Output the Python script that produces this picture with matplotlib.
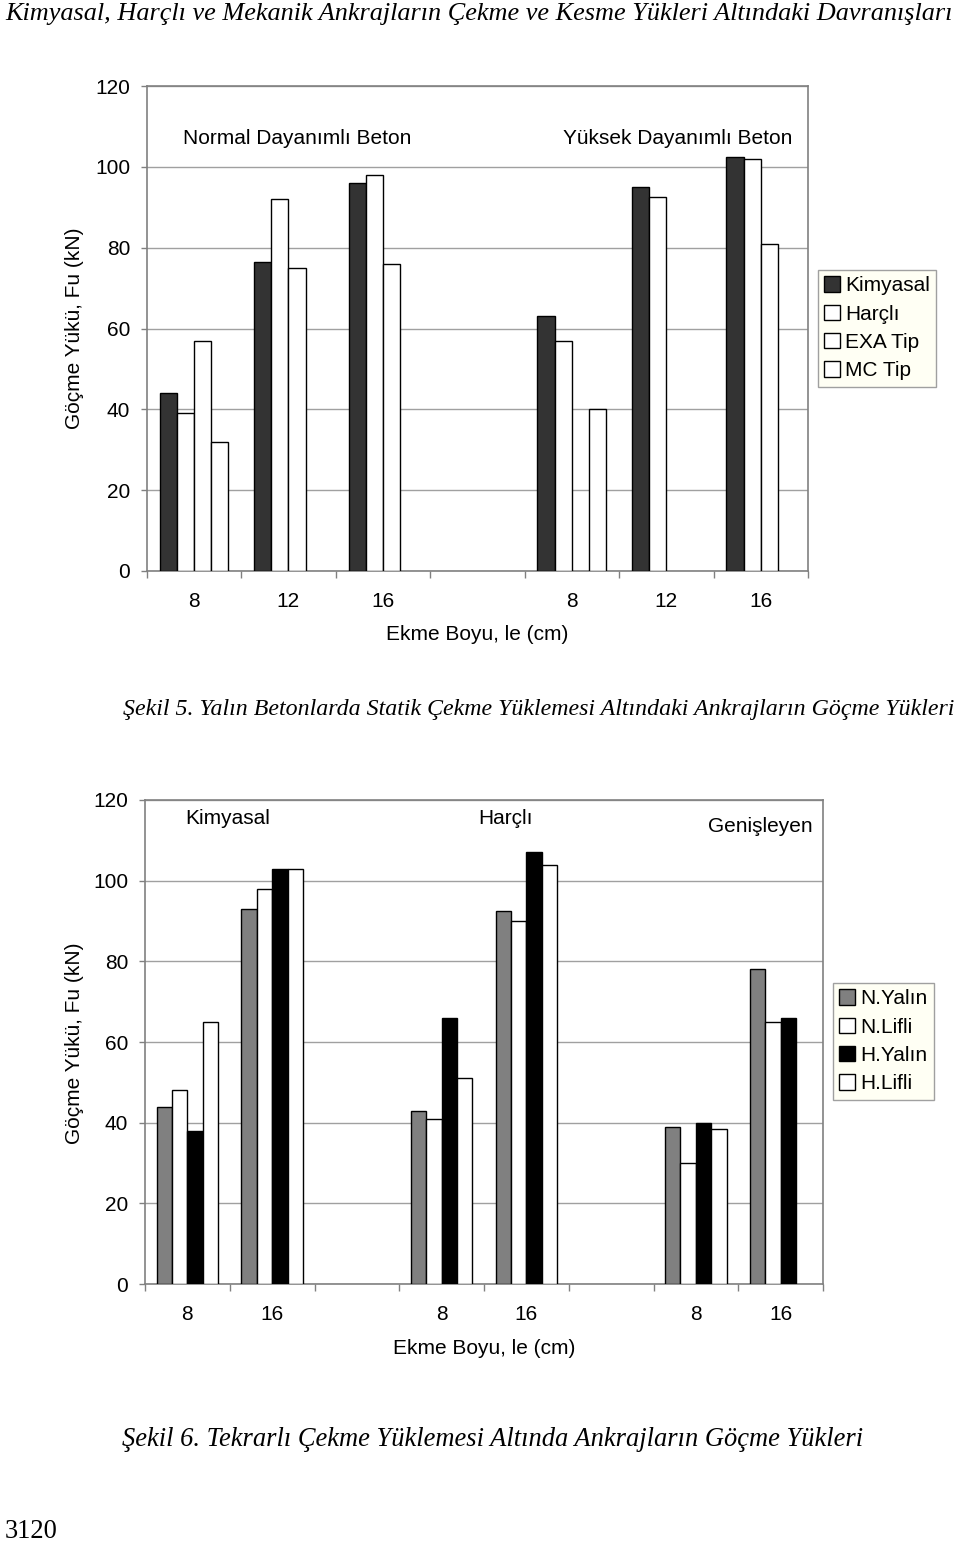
import numpy as np
import matplotlib
matplotlib.use("Agg")
import matplotlib.pyplot as plt

# ---------------- data ----------------
top_categories = ['8', '12', '16', '', '8', '12', '16']
top_series = ['Kimyasal', 'Harçlı', 'EXA Tip', 'MC Tip']
top_kimyasal = [44, 76.5, 96, np.nan, 63, 95, 102.5]
top_harcli = [39, 92, 98, np.nan, 57, 92.5, 102]
top_exa = [57, 75, 76, np.nan, np.nan, np.nan, 81]
top_mc = [32, np.nan, np.nan, np.nan, 40, np.nan, np.nan]
top_colors = ['#333333', 'white', 'white', 'white']
top_groups = ['Normal Dayanımlı Beton', 'Yüksek Dayanımlı Beton']

bot_categories = ['8', '16', '', '8', '16', '', '8', '16']
bot_series = ['N.Yalın', 'N.Lifli', 'H.Yalın', 'H.Lifli']
bot_n_yalin = [44, 93, np.nan, 43, 92.5, np.nan, 39, 78]
bot_n_lifli = [48, 98, np.nan, 41, 90, np.nan, 30, 65]
bot_h_yalin = [38, 103, np.nan, 66, 107, np.nan, 40, 66]
bot_h_lifli = [65, 103, np.nan, 51, 104, np.nan, 38.5, np.nan]
bot_colors = ['#808080', 'white', 'black', 'white']
bot_groups = ['Kimyasal', 'Harçlı', 'Genişleyen']

y_ticks = [0, 20, 40, 60, 80, 100, 120]
y_label = 'Göçme Yükü, Fu (kN)'
x_label = 'Ekme Boyu, le (cm)'

title_text = 'Kimyasal, Harçlı ve Mekanik Ankrajların Çekme ve Kesme Yükleri Altındaki Davranışları'
cap5 = 'Şekil 5. Yalın Betonlarda Statik Çekme Yüklemesi Altındaki Ankrajların Göçme Yükleri'
cap6 = 'Şekil 6. Tekrarlı Çekme Yüklemesi Altında Ankrajların Göçme Yükleri'
page_no = '3120'

# ---------------- style ----------------
SANS = ['Liberation Sans', 'DejaVu Sans']
SERIF = ['Liberation Serif', 'DejaVu Serif']
W, H = 960, 1544
fig = plt.figure(figsize=(W / 100, H / 100), dpi=100)
fig.patch.set_facecolor('white')
FS = 15
GRID = '#a0a0a0'
SPINE = '#808080'


def fx(px):
    return px / W


def fy(py):
    return 1 - py / H


def make_axes(left, right, top, bottom, cats, series_vals, colors, names):
    ax = fig.add_axes([fx(left), fy(bottom), fx(right - left), (bottom - top) / H])
    n = len(cats)
    x = np.arange(n) + 0.5
    w = 1 / 5.5
    for k, (vals, c, nm) in enumerate(zip(series_vals, colors, names)):
        ax.bar(x + (k - 1.5) * w, vals, width=w, color=c, edgecolor='black',
               linewidth=1.0, label=nm, zorder=3)
    ax.set_xlim(0, n)
    ax.set_ylim(0, 120)
    ax.set_yticks(y_ticks)
    ax.set_yticklabels([str(t) for t in y_ticks], fontfamily=SANS, fontsize=FS)
    ax.yaxis.grid(True, color=GRID, linewidth=1.0, zorder=0)
    ax.set_axisbelow(True)
    ax.set_xticks(np.arange(n + 1))
    ax.set_xticklabels([''] * (n + 1))
    ax.set_xticks(x, minor=True)
    ax.set_xticklabels(cats, minor=True, fontfamily=SANS, fontsize=FS)
    ax.tick_params(axis='x', which='major', direction='out', length=5, color=SPINE, width=1)
    ax.tick_params(axis='x', which='minor', length=0, pad=15)
    ax.tick_params(axis='y', which='major', direction='out', length=4, color=SPINE, width=1, pad=8)
    for s in ax.spines.values():
        s.set_color(SPINE)
        s.set_linewidth(1.2)
    return ax


ax1 = make_axes(146.7, 808, 86, 571, top_categories,
                [top_kimyasal, top_harcli, top_exa, top_mc], top_colors, top_series)
ax2 = make_axes(145, 823, 800, 1284, bot_categories,
                [bot_n_yalin, bot_n_lifli, bot_h_yalin, bot_h_lifli], bot_colors, bot_series)

# group labels
for txt, cx, cy in zip(top_groups, [297, 678], [138, 138]):
    fig.text(fx(cx), fy(cy), txt, ha='center', va='center', fontfamily=SANS, fontsize=FS)
for txt, cx, cy in zip(bot_groups, [228, 506, 760], [818, 818, 826]):
    fig.text(fx(cx), fy(cy), txt, ha='center', va='center', fontfamily=SANS, fontsize=FS)

# axis labels
fig.text(fx(75), fy(328), y_label, rotation=90, ha='center', va='center', fontfamily=SANS, fontsize=FS)
fig.text(fx(75), fy(1043), y_label, rotation=90, ha='center', va='center', fontfamily=SANS, fontsize=FS)
fig.text(fx(477), fy(635), x_label, ha='center', va='center', fontfamily=SANS, fontsize=FS)
fig.text(fx(484), fy(1349), x_label, ha='center', va='center', fontfamily=SANS, fontsize=FS)

# legends
leg_kw = dict(loc='upper left', prop={'family': SANS, 'size': FS}, frameon=True,
              fancybox=False, edgecolor='#a0a0a0', facecolor='#fffff4', framealpha=1,
              handlelength=0.75, handleheight=0.75, handletextpad=0.25,
              labelspacing=0.45, borderpad=0.3, borderaxespad=0)
h1, l1 = ax1.get_legend_handles_labels()
lg1 = fig.legend(h1, l1, bbox_to_anchor=(fx(818), fy(270)), **leg_kw)
lg1.get_frame().set_linewidth(1.0)
h2, l2 = ax2.get_legend_handles_labels()
lg2 = fig.legend(h2, l2, bbox_to_anchor=(fx(833), fy(983)), **leg_kw)
lg2.get_frame().set_linewidth(1.0)

# captions (serif italic), fitted to measured widths
renderer = fig.canvas.get_renderer()


def fit_text(x, y, s, target_w, ha='left', style='italic', base=16):
    t = fig.text(fx(x), fy(y), s, ha=ha, va='center', fontfamily=SERIF,
                 fontstyle=style, fontsize=base)
    bw = t.get_window_extent(renderer=renderer).width
    t.set_fontsize(base * target_w / bw)
    return t


fit_text(5, 14, title_text, 950)
fit_text(123, 709, cap5, 832)
fit_text(493, 1440, cap6, 743, ha='center')
fit_text(5, 1532, page_no, 53, style='normal', base=18)

fig.savefig('out.png', dpi=100, facecolor='white')
